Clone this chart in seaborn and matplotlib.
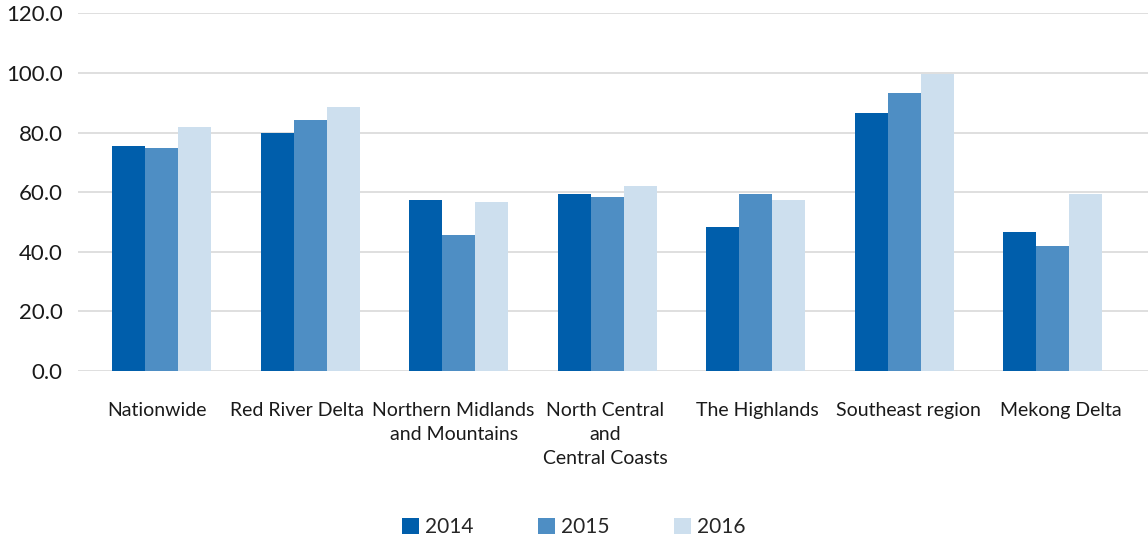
#!/usr/bin/env python3
"""Grouped bar chart by region, 2014-2016."""
import matplotlib

matplotlib.use("Agg")
import matplotlib.pyplot as plt  # noqa: E402
import matplotlib.transforms as mtransforms  # noqa: E402
import pandas as pd  # noqa: E402
import seaborn as sns  # noqa: E402
from matplotlib.patches import Patch  # noqa: E402

regions = ["Nationwide", "Red River Delta", "Northern Midlands\nand Mountains",
           "North Central\nand\nCentral Coasts", "The Highlands",
           "Southeast region", "Mekong Delta"]
years = ["2014", "2015", "2016"]
values_2014 = [75.4, 79.7, 57.2, 59.3, 48.2, 86.4, 46.5]
values_2015 = [74.7, 84.1, 45.5, 58.3, 59.3, 93.2, 41.8]
values_2016 = [81.7, 88.5, 56.6, 61.9, 57.2, 99.8, 59.3]
colours = ["#005eab", "#4e8ec4", "#cddfee"]
y_ticks = [0, 20, 40, 60, 80, 100, 120]

# category labels sit slightly off the bar-group centres (pixels)
label_shift_px = [-4, -13, -5, -2, 2, 4, 8]

df = pd.DataFrame({
    "region": regions * 3,
    "year": [y for y in years for _ in regions],
    "value": values_2014 + values_2015 + values_2016,
})

sns.set_theme(style="white")
plt.rcParams["font.family"] = ["Lato", "DejaVu Sans"]

W, H = 1148, 540
fig = plt.figure(figsize=(W / 100, H / 100), dpi=100)
ax = fig.add_axes([78 / W, (H - 371) / H, (W - 78) / W, (371 - 13.3) / H])

sns.barplot(data=df, x="region", y="value", hue="year", palette=colours,
            width=0.666, saturation=1, linewidth=0, ax=ax, legend=False,
            zorder=3)

ax.set_xlim(-0.562, 6.64)
ax.set_ylim(0, 120)
ax.set_yticks(y_ticks)
ax.set_yticklabels([f"{t:.1f}" for t in y_ticks], fontsize=16, color="#1a1a1a")
ax.yaxis.grid(True, color="#d9d9d9", linewidth=1.2, zorder=0)
ax.set_axisbelow(True)
ax.tick_params(axis="y", length=0, pad=11)
ax.tick_params(axis="x", length=0, pad=22, labelsize=14, labelcolor="#1a1a1a")
for lbl, dx in zip(ax.get_xticklabels(), label_shift_px):
    lbl.set_verticalalignment("top")
    lbl.set_linespacing(1.5)
    lbl.set_transform(lbl.get_transform() + mtransforms.ScaledTranslation(
        dx / 100, 0, fig.dpi_scale_trans))
ax.set_xlabel("")
ax.set_ylabel("")
for s in ax.spines.values():
    s.set_visible(False)

handles = [Patch(facecolor=c, edgecolor="none") for c in colours]
fig.legend(handles, years, loc="center", bbox_to_anchor=(0.5, (H - 527) / H),
           ncol=3, frameon=False, fontsize=15, handlelength=0.8,
           handleheight=0.8, handletextpad=0.3, columnspacing=3.1)

fig.savefig("out.png", dpi=100)
